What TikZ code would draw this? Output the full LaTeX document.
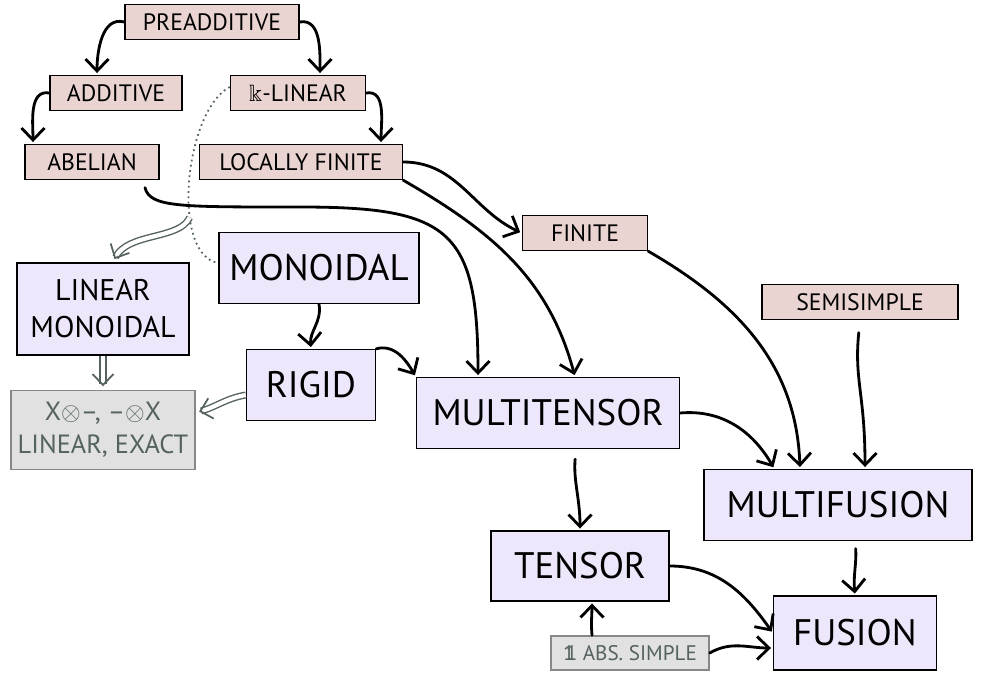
\documentclass[tikz,border=0pt]{standalone}
\usepackage{amssymb}
\usepackage{fontspec}
\setmainfont{PT Sans}
\usetikzlibrary{arrows.meta}
\definecolor{pinkfill}{RGB}{234,212,210}
\definecolor{lavender}{RGB}{238,231,251}
\definecolor{grayfill}{RGB}{225,225,225}
\definecolor{grayline}{RGB}{135,135,135}
\definecolor{graytext}{RGB}{84,98,96}
\newcommand{\bbone}{\mbox{1\kern-0.42em1}}
\tikzstyle{prop} = [rectangle, draw=black, line width=0.8pt, fill=pinkfill,
    minimum height=0.7cm, inner sep=2pt, text centered,
    font=\fontsize{13.5}{15}\selectfont]
\tikzstyle{cat} = [rectangle, draw=black, line width=0.8pt, fill=lavender,
    minimum height=1.42cm, inner sep=2pt, text centered,
    font=\fontsize{21}{24}\selectfont]
\tikzstyle{fact} = [rectangle, draw=grayline, line width=0.8pt, fill=grayfill,
    text=graytext, inner sep=2pt, align=center]
\tikzstyle{arrow} = [line width=1.6pt, line cap=round,
    -{Straight Barb[length=2.4mm,width=4.6mm]}, shorten >=1pt]
\tikzstyle{implies} = [draw=graytext, double=white, double distance=2.4pt,
    line width=0.8pt, -{Straight Barb[length=2.2mm,width=4.2mm,line width=1pt]},
    shorten >=2pt]
\tikzstyle{hint} = [draw=graytext, dotted, line width=1pt]

\begin{document}
\begin{tikzpicture}
            \useasboundingbox (0,0) rectangle (19.86,-13.52);
            % Properties
            \node[prop, minimum width=3.48cm] (pre) at (4.24,-0.44) {PREADDITIVE};
            \node[prop, minimum width=2.64cm, below of=pre, xshift=-1.92cm,
            yshift=-0.42cm] (add) {ADDITIVE};
            \node[prop, minimum width=2.70cm, below of=pre, xshift=1.72cm,
            yshift=-0.42cm] (klin) {$\Bbbk$-LINEAR};
            \node[prop, minimum width=2.68cm, below of=add, xshift=-0.48cm,
            yshift=-0.38cm] (abel) {ABELIAN};
            \node[prop, minimum width=4.06cm, below of=klin, xshift=0.06cm,
            yshift=-0.38cm] (locf) {LOCALLY FINITE};
            \node[prop, minimum width=2.50cm, right of=locf, xshift=4.68cm,
            yshift=-1.42cm] (fin) {FINITE};
            \node[prop, minimum width=3.92cm, right of=fin, xshift=4.50cm,
            yshift=-1.38cm] (semi) {SEMISIMPLE};
            % Categories
            \node[cat, minimum width=4.00cm, below of=locf, xshift=0.36cm,
            yshift=-1.12cm] (mono) {MONOIDAL};
            \node[cat, minimum width=3.44cm, minimum height=1.84cm, align=center,
            font=\fontsize{17}{21}\selectfont, left of=mono, xshift=-3.32cm,
            yshift=-0.82cm] (linm) {LINEAR\\MONOIDAL};
            \node[cat, minimum width=2.58cm, below of=mono, xshift=-0.16cm,
            yshift=-1.34cm] (rig) {RIGID};
            \node[fact, minimum width=3.68cm, minimum height=1.58cm,
            font=\fontsize{15}{19}\selectfont, below of=linm,
            yshift=-1.42cm] (xlin) {X$\otimes$--, --$\otimes$X\\LINEAR, EXACT};
            \node[cat, minimum width=5.26cm, right of=rig, xshift=3.74cm,
            yshift=-0.56cm] (mten) {MULTITENSOR};
            \node[cat, minimum width=5.36cm, below of=semi, xshift=-0.44cm,
            yshift=-3.06cm] (mfus) {MULTIFUSION};
            \node[cat, minimum width=3.56cm, minimum height=1.40cm, below of=mten,
            xshift=0.64cm, yshift=-2.06cm] (tens) {TENSOR};
            \node[cat, minimum width=3.26cm, minimum height=1.48cm, below of=mfus,
            xshift=0.34cm, yshift=-1.56cm] (fus) {FUSION};
            \node[fact, minimum width=3.16cm, minimum height=0.68cm,
            font=\fontsize{12}{14}\selectfont, below of=tens, xshift=1.00cm,
            yshift=-0.74cm] (abs) {\bbone{} ABS. SIMPLE};
            % Dotted hint
            \draw[hint] ([yshift=0.12cm]klin.west) .. controls (3.7,-2.2) and
            (3.4,-5.1) .. ([yshift=0.1cm]mono.west) coordinate[pos=0.66] (meet);
            % Arrows
            \draw[arrow] (pre.west) to[out=165,in=90] ([xshift=-0.38cm]add.north);
            \draw[arrow] (pre.east) to[out=10,in=90] ([xshift=0.44cm]klin.north);
            \draw[arrow] (add.west) to[out=170,in=90] ([xshift=-1.18cm]abel.north);
            \draw[arrow] (klin.east) to[out=10,in=90] ([xshift=1.60cm]locf.north);
            \draw[arrow] (locf.east) to[out=0,in=155] (fin.west);
            \draw[arrow] ([xshift=1.06cm,yshift=-0.15cm]abel.south) .. controls
            (3.0,-4.15) and (3.6,-4.14) .. (6.0,-4.14) .. controls (9.0,-4.14) and
            (9.56,-4.6) .. ([xshift=-1.40cm]mten.north);
            \draw[arrow] (locf.south east) to[out=-30,in=105]
            ([xshift=0.54cm]mten.north);
            \draw[arrow] (mono.south) to[out=-80,in=95] (rig.north);
            \draw[arrow] (rig.north east) to[out=15,in=120] (mten.north west);
            \draw[arrow] (fin.south east) to[out=-30,in=92]
            ([xshift=-0.76cm]mfus.north);
            \draw[arrow, shorten <=0.25cm] (semi.south) .. controls +(-0.12,-1.2)
            and +(0,1.5) .. ([xshift=0.54cm]mfus.north);
            \draw[arrow] (mten.east) to[out=5,in=120] ([xshift=1.42cm]mfus.north west);
            \draw[arrow, shorten <=0.2cm] ([xshift=0.56cm]mten.south) to[out=-95,in=90]
            (tens.north);
            \draw[arrow, shorten <=0.15cm] ([xshift=0.34cm]mfus.south) to[out=-85,in=95]
            (fus.north);
            \draw[arrow] (tens.east) to[out=0,in=125] (fus.west);
            \draw[arrow] ([xshift=-0.76cm]abs.north) to[out=95,in=-90]
            ([xshift=0.24cm]tens.south);
            \draw[arrow] (abs.east) to[out=30,in=180] ([yshift=-0.3cm]fus.west);
            % Implications
            \draw[implies] (meet) .. controls +(-0.2,-0.45) and +(0.3,0.6) ..
            ([xshift=0.2cm]linm.north);
            \draw[implies] (linm) -- (xlin);
            \draw[implies] ([yshift=-0.2cm]rig.west) to[out=190,in=15]
            ([yshift=0.35cm]xlin.east);

        \end{tikzpicture}
\end{document}
